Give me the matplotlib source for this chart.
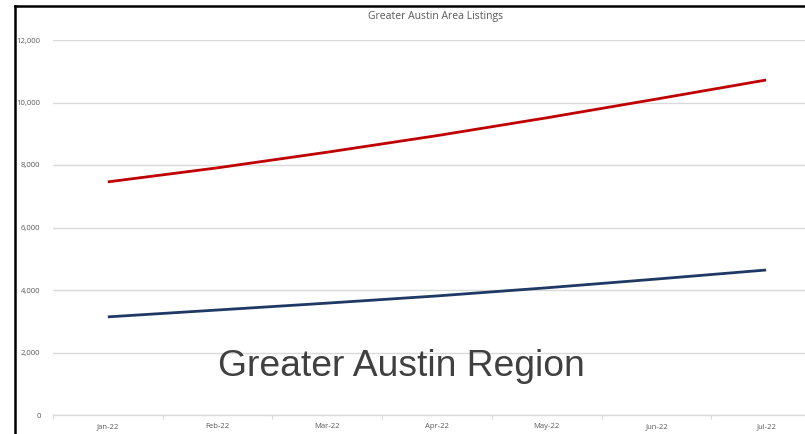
import matplotlib
matplotlib.use("Agg")
import matplotlib.pyplot as plt
from matplotlib.lines import Line2D

months = ["Jan-22", "Feb-22", "Mar-22", "Apr-22", "May-22", "Jun-22", "Jul-22"]
red_series = [7460, 7910, 8410, 8940, 9510, 10110, 10720]
blue_series = [3140, 3360, 3580, 3810, 4070, 4350, 4640]
y_ticks = [0, 2000, 4000, 6000, 8000, 10000, 12000]

W, H = 805, 434
fig = plt.figure(figsize=(W / 100, H / 100), dpi=100)
fig.patch.set_facecolor("white")

left_px, right_px = 53, 821
top_px, bottom_px = 40, 415
ax = fig.add_axes([left_px / W, 1 - bottom_px / H, (right_px - left_px) / W, (bottom_px - top_px) / H])
ax.set_facecolor("none")

x = list(range(len(months)))
ax.plot(x, red_series, color="#c00000", lw=2.0, solid_capstyle="butt", zorder=3)
ax.plot(x, blue_series, color="#1f3864", lw=2.0, solid_capstyle="butt", zorder=3)

ax.set_xlim(-0.5, len(months) - 0.5)
ax.set_ylim(0, 12000)
ax.set_yticks(y_ticks)
ax.set_yticklabels([f"{v:,}" for v in y_ticks], fontsize=5.5, color="#595959", family="Open Sans")
ax.set_xticks(x)
ax.set_xticklabels(months, fontsize=5.5, color="#595959", family="Open Sans")
ax.set_xticks([i + 0.5 for i in range(-1, len(months))], minor=True)
ax.tick_params(axis="x", which="major", length=0, pad=6)
ax.tick_params(axis="x", which="minor", length=3, color="#d9d9d9", width=0.8)
ax.tick_params(axis="y", length=0, pad=9)
ax.grid(axis="y", color="#d9d9d9", lw=1.0, zorder=0)
for s in ["top", "right", "left"]:
    ax.spines[s].set_visible(False)
ax.spines["bottom"].set_color("#d9d9d9")
ax.spines["bottom"].set_linewidth(1.0)

fig.text(436 / W, 1 - 17 / H, "Greater Austin Area Listings", ha="center", va="center",
         fontsize=7.5, color="#595959", family="Open Sans")

fig.text(401 / W, 1 - 367 / H, "Greater Austin Region", ha="center", va="center",
         fontsize=26.8, color="#404040", family="Liberation Sans")

# black frame lines (left and top)
fig.add_artist(Line2D([15 / W, 15 / W], [0, 1 - 6 / H], transform=fig.transFigure, color="black", lw=1.8))
fig.add_artist(Line2D([15 / W, 1], [1 - 6 / H, 1 - 6 / H], transform=fig.transFigure, color="black", lw=1.8))

fig.savefig("out.png", dpi=100)
